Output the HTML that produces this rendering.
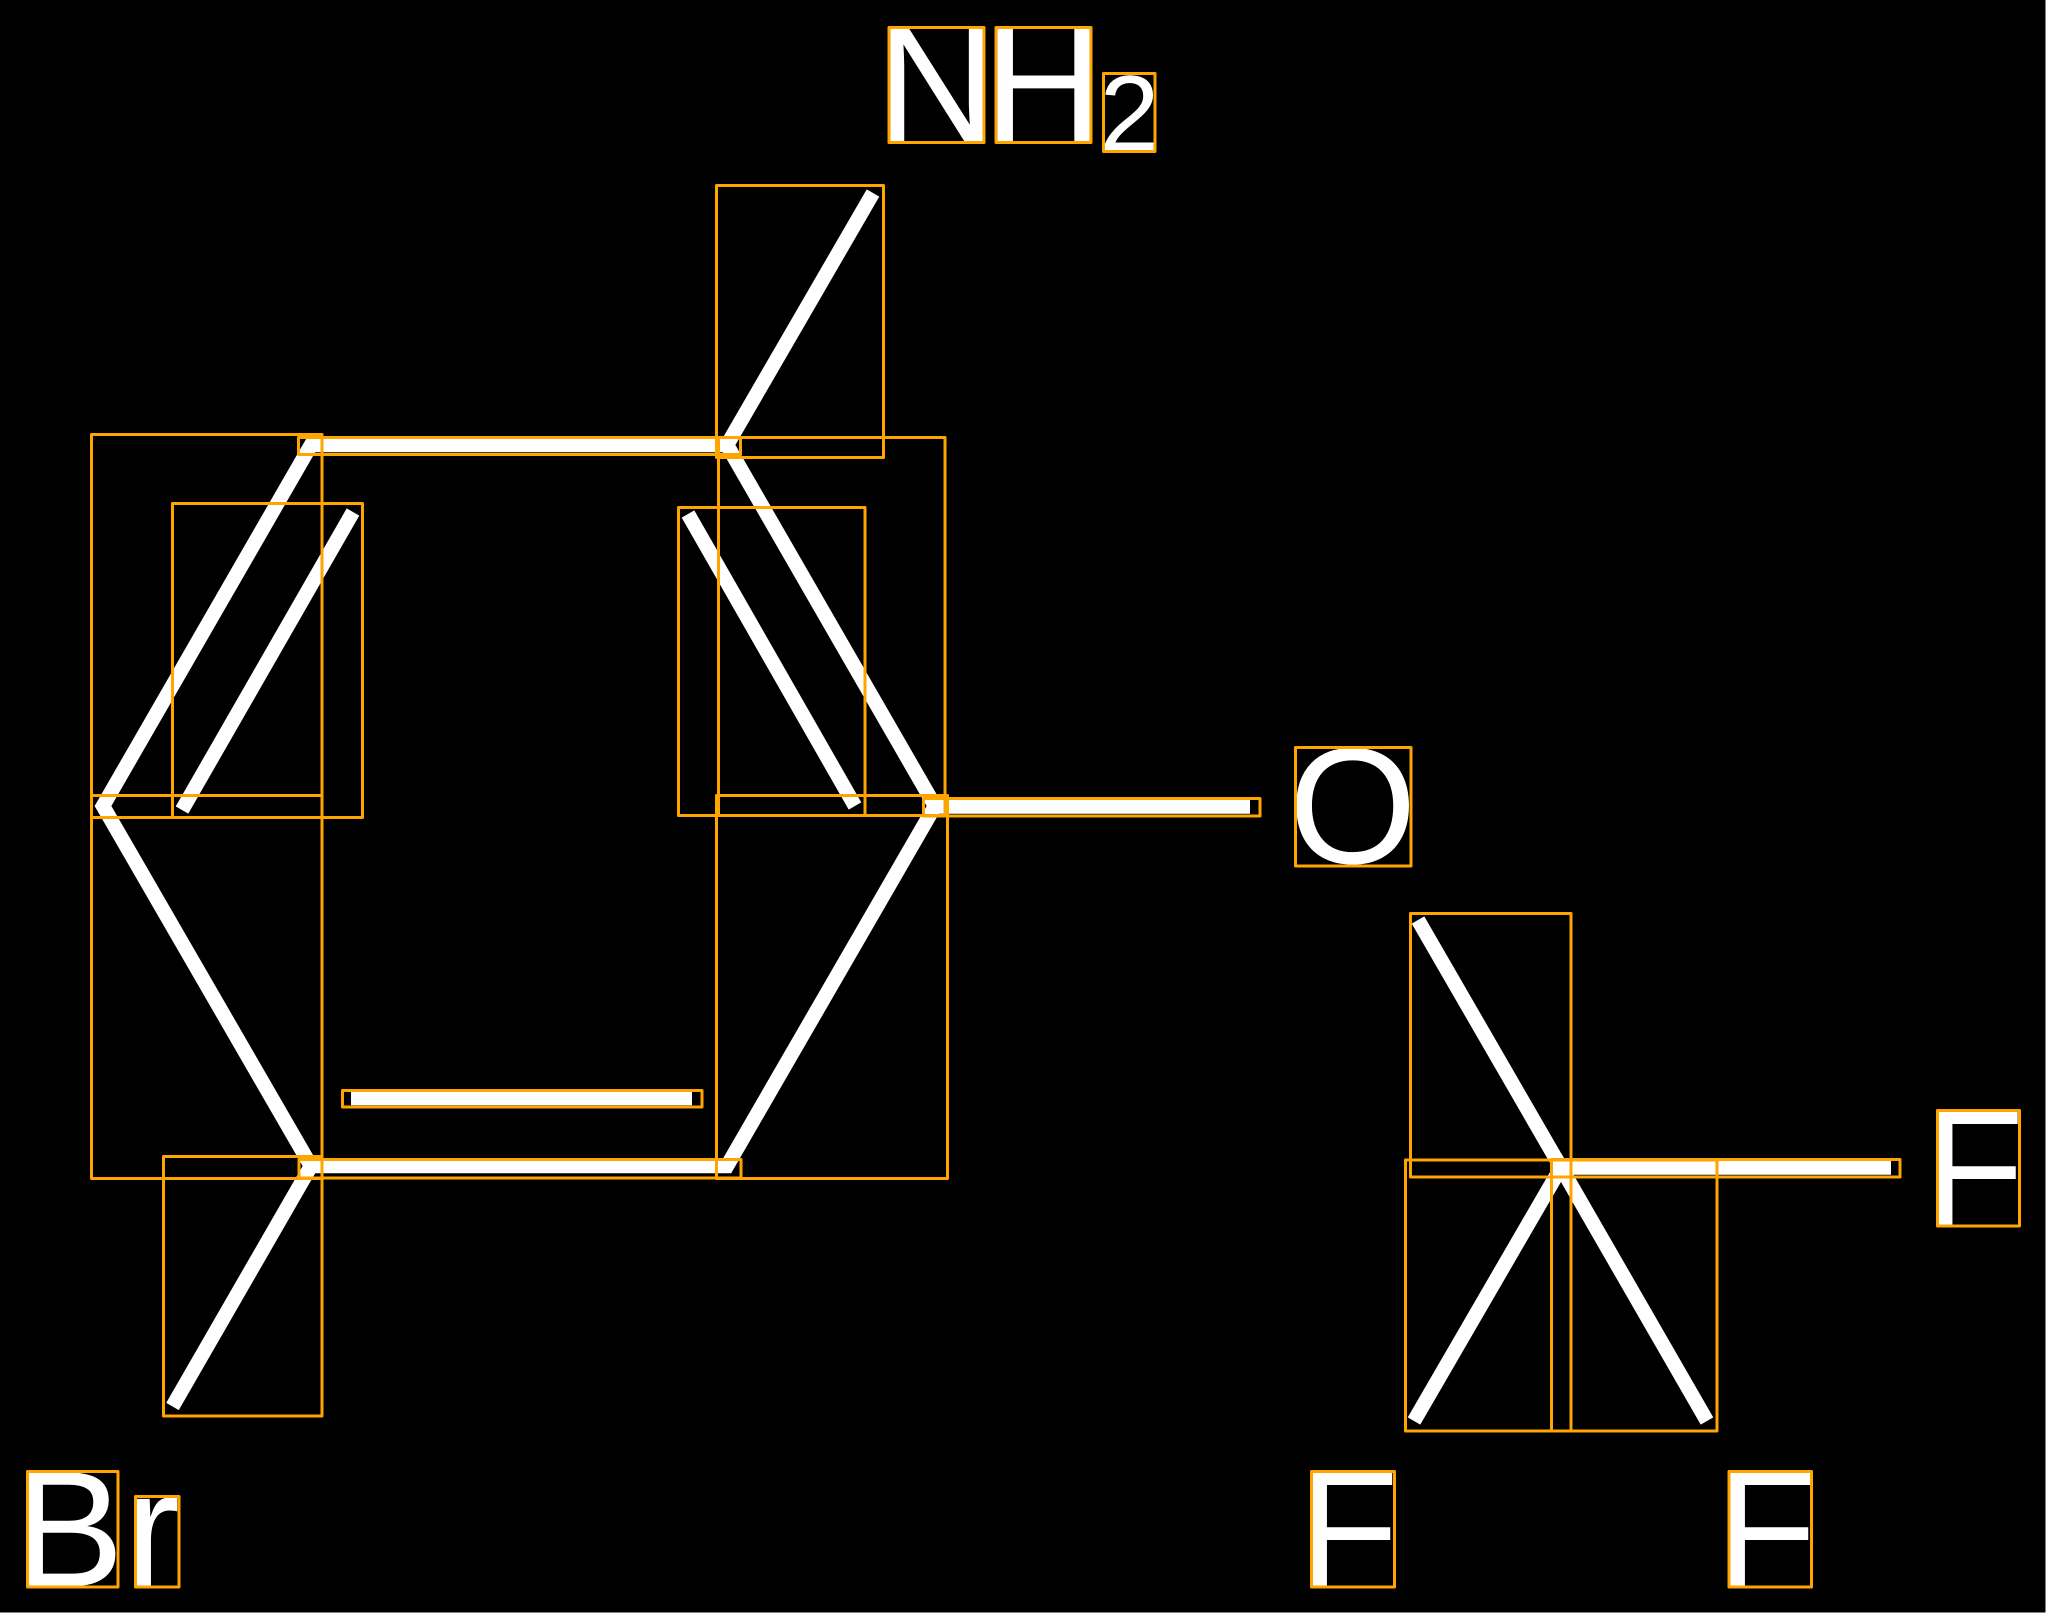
<!DOCTYPE html>
<html><head><meta charset="utf-8"><style>html,body{margin:0;padding:0;background:#fff}svg{display:block}text{font-family:"Liberation Sans",sans-serif;fill:#fff}</style></head><body>
<svg width="2046" height="1613" viewBox="0 0 2046 1613" xmlns="http://www.w3.org/2000/svg">
<rect x="0" y="0" width="2045.5" height="1612.5" fill="#000"/>
<g fill="none" stroke="#fff" stroke-width="14.5" stroke-linejoin="miter" stroke-linecap="butt">
<polyline points="727,445 311,445 103,806 311,1166 727,1166 935,806 727,445 311,445"/>
<polyline points="873,193 727,445"/>
<polyline points="172.5,1406.5 311,1166"/>
<polyline points="353,512 182,810"/>
<polyline points="688,514 855,806"/>
<polyline points="351,1098 692,1098"/>
<polyline points="935,806.5 1250,806.5"/>
<polyline points="1418,920 1561,1167.5 1891,1167.5"/>
<polyline points="1414,1421 1561,1167.5 1707,1421"/>
</g>
<text x="877" y="141" font-size="165">N</text>
<text x="984" y="141" font-size="165">H</text>
<text x="1099.5" y="150.5" font-size="108">2</text>
<text x="1288.5" y="863" font-size="165">O</text>
<text x="1923.5" y="1225" font-size="165">F</text>
<text x="1298" y="1586" font-size="165">F</text>
<text x="1716" y="1586" font-size="165">F</text>
<text x="14" y="1586" font-size="165">B</text>
<text x="125" y="1586" font-size="165">r</text>
<g fill="none" stroke="#FFA500" stroke-width="3" stroke-linejoin="round">
<rect x="889" y="27.5" width="95" height="115"/>
<rect x="996" y="27.5" width="95" height="115"/>
<rect x="1103.5" y="73.5" width="51.5" height="78"/>
<rect x="1295.5" y="747.5" width="115.5" height="118.5"/>
<rect x="1937.5" y="1110.5" width="82" height="115.5"/>
<rect x="1311.5" y="1471.5" width="83" height="115.5"/>
<rect x="1729" y="1471.5" width="82.5" height="115.5"/>
<rect x="27.5" y="1471.5" width="90.5" height="115.5"/>
<rect x="135.5" y="1496.5" width="43.5" height="90.5"/>
<rect x="716.5" y="185.5" width="167" height="272"/>
<rect x="298.5" y="437.5" width="442" height="17"/>
<rect x="91.5" y="434.5" width="230.5" height="383"/>
<rect x="172.5" y="503.5" width="190" height="314"/>
<rect x="678.5" y="507.5" width="186.5" height="308"/>
<rect x="718.5" y="437.5" width="226.5" height="378"/>
<rect x="716.5" y="795.5" width="231" height="383"/>
<rect x="91.5" y="795.5" width="230.5" height="383"/>
<rect x="163.5" y="1156.5" width="158.5" height="259.5"/>
<rect x="342.5" y="1090.5" width="359.5" height="16.5"/>
<rect x="299" y="1159.5" width="442" height="18.5"/>
<rect x="923.5" y="798.5" width="336.5" height="17.5"/>
<rect x="1410.5" y="913.5" width="160.5" height="263.5"/>
<rect x="1551.5" y="1159.5" width="348.5" height="17.5"/>
<rect x="1405.5" y="1160" width="165.5" height="271"/>
<rect x="1551.5" y="1160" width="165.5" height="271"/>
</g>
</svg>
</body></html>
